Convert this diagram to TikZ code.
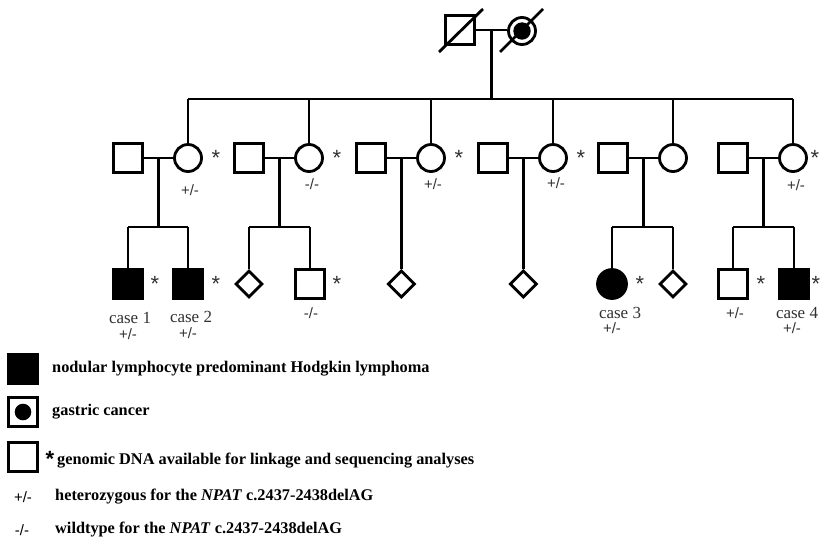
\documentclass[tikz,border=0pt]{standalone}
\usepackage{fontspec}
\setmainfont{Liberation Serif}
\newfontfamily\arialf{Liberation Sans}
\usetikzlibrary{shapes.geometric,calc}
\definecolor{labgray}{RGB}{50,50,50}
\begin{document}
\begin{tikzpicture}[x=1pt,y=-1pt,
  lw/.style={line width=2.8pt},
  sq/.style={draw,lw,rectangle,minimum size=28.5pt,inner sep=0pt,fill=white},
  fsq/.style={sq,fill=black},
  circ/.style={draw,lw,circle,minimum size=27pt,inner sep=0pt,fill=white},
  fcirc/.style={circ,fill=black,minimum size=29pt},
  dia/.style={draw,lw,diamond,minimum width=27pt,minimum height=27pt,inner sep=0pt,fill=white},
  conn/.style={lw},
  star/.style={font=\arialf\fontsize{22}{22}\selectfont,inner sep=0pt,text=labgray},
  gt/.style={font=\arialf\fontsize{15}{15}\selectfont,inner sep=0pt,text=labgray},
  case/.style={font=\fontsize{17}{17}\selectfont,inner sep=0pt,text=labgray},
  leg/.style={font=\bfseries\fontsize{16.3}{18}\selectfont,inner sep=0pt,anchor=west},
  legg/.style={font=\arialf\fontsize{15}{15}\selectfont,inner sep=0pt}
]
\useasboundingbox (0,0) rectangle (821,539);

% generation I
\node[sq] (f0) at (460,30) {};
\node[circ] (m0) at (522,31) {};
\fill (m0.center) circle (8.7pt);
\coordinate (f0a) at (439,52); \coordinate (f0b) at (483,9);
\coordinate (m0a) at (500,52); \coordinate (m0b) at (543,9);
\draw[conn] (f0a) -- (f0b);
\draw[conn] (m0a) -- (m0b);
\draw[conn] (f0.east) -- (m0.west |- f0.east);
\coordinate (j0) at ($(f0.east)!0.5!(m0.west |- f0.east)$);
\coordinate (s0) at (j0 |- 0,99);
\draw[conn] (j0) -- (s0);

% generation II
\foreach \i/\x in {1/188,2/309,3/431,4/553,5/673,6/793}{
  \node[sq] (h\i) at (\x-60,158) {};
  \node[circ] (w\i) at (\x,158) {};
  \draw[conn] (h\i.east) -- (w\i.west);
  \coordinate (d\i) at ($(h\i.east)!0.5!(w\i.west)$);
  \coordinate (e\i) at (d\i |- 0,227);
  \draw[conn] (w\i.north) -- (w\i.north |- s0);
}
\draw[conn] (w1.north |- s0) -- (w6.north |- s0);

% stars and genotypes gen II
\node[star] (a1) at (216,158) {*};
\node[star] (a2) at (337,158) {*};
\node[star] (a3) at (459,158) {*};
\node[star] (a4) at (581,158) {*};
\node[star] (a6) at (815,158) {*};
\node[gt] (g1) at (190,190) {+/-};
\node[gt] (g2) at (312,184) {-/-};
\node[gt] (g3) at (433,184) {+/-};
\node[gt] (g4) at (556,183) {+/-};
\node[gt] (g6) at (796,185) {+/-};

% generation III
\node[fsq] (c1a) at (128,284) {};
\node[fsq] (c1b) at (188,284) {};
\node[dia] (c2a) at (249,284) {};
\node[sq] (c2b) at (310,284) {};
\node[dia] (c3) at (d3 |- 0,284) {};
\node[dia] (c4) at (d4 |- 0,284) {};
\node[fcirc] (c5a) at (612,284) {};
\node[dia] (c5b) at (673,284) {};
\node[sq] (c6a) at (733,284) {};
\node[fsq] (c6b) at (794,284) {};

\foreach \i/\a/\b in {1/c1a/c1b,2/c2a/c2b,5/c5a/c5b,6/c6a/c6b}{
  \draw[conn] (d\i) -- (e\i);
  \draw[conn] (\a.north |- e\i) -- (\b.north |- e\i);
  \draw[conn] (\a.north |- e\i) -- (\a.north);
  \draw[conn] (\b.north |- e\i) -- (\b.north);
}
\draw[conn] (d3) -- (c3.north);
\draw[conn] (d4) -- (c4.north);

\node[star] (b1) at (155,284) {*};
\node[star] (b2) at (216,284) {*};
\node[star] (b3) at (337,284) {*};
\node[star] (b4) at (640,284) {*};
\node[star] (b5) at (761,284) {*};
\node[star] (b6) at (816,284) {*};

\node[case] (k1) at (130,318) {case 1};
\node[gt] (k1g) at (128,334) {+/-};
\node[case] (k2) at (191,317) {case 2};
\node[gt] (k2g) at (188,333) {+/-};
\node[gt] (k3g) at (311,313) {-/-};
\node[case] (k5) at (620,313) {case 3};
\node[gt] (k5g) at (612,328) {+/-};
\node[gt] (k6g) at (735,313) {+/-};
\node[case] (k7) at (797,313) {case 4};
\node[gt] (k7g) at (792,328) {+/-};

% legend
\node[fsq] (L1) at (23,369) {};
\node[sq] (L2) at (23,412) {};
\fill (L2.center) circle (8.3pt);
\node[sq] (L3) at (23,457) {};
\node[leg] (T1) at (52,369) {nodular lymphocyte predominant Hodgkin lymphoma};
\node[leg] (T2) at (52,412) {gastric cancer};
\node[font=\arialf\bfseries\fontsize{22}{22}\selectfont,inner sep=0pt] (T3s) at (50,459) {*};
\node[leg] (T3) at (57,461) {genomic DNA available for linkage and sequencing analyses};
\node[legg] (T4s) at (23,497) {+/-};
\node[leg] (T4) at (55,497) {heterozygous for the \textit{NPAT} c.2437-2438delAG};
\node[legg] (T5s) at (22,530) {-/-};
\node[leg] (T5) at (55,530) {wildtype for the \textit{NPAT} c.2437-2438delAG};
\end{tikzpicture}
\end{document}
